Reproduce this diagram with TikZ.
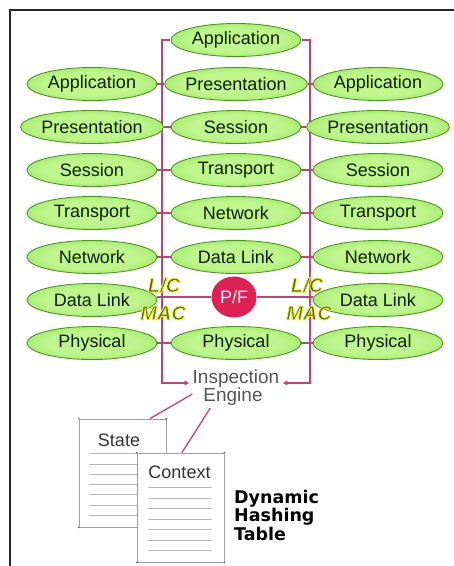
\documentclass[tikz,border=0pt]{standalone}
\usepackage{fontspec}
\setmainfont{Liberation Sans}
\newfontfamily\dvbold{DejaVu Sans Bold}
\newfontfamily\lcfont{Liberation Sans Bold Italic}
\usetikzlibrary{shapes.geometric,arrows.meta,calc}

\definecolor{gLight}{RGB}{190,245,140}
\definecolor{gMid}{RGB}{155,228,95}
\definecolor{gSat}{RGB}{125,210,60}
\definecolor{gDark}{RGB}{95,185,40}
\definecolor{gBorder}{RGB}{75,150,35}
\definecolor{gText}{RGB}{15,30,0}
\definecolor{lineC}{RGB}{185,70,115}
\definecolor{pfC}{RGB}{222,32,85}
\definecolor{lcC}{RGB}{85,120,0}
\definecolor{ieC}{RGB}{85,85,85}
\definecolor{docC}{RGB}{160,160,160}
\definecolor{docLine}{RGB}{185,185,185}

\pgfdeclareradialshading{greenell}{\pgfpoint{0bp}{0bp}}{color(0bp)=(gLight); color(18bp)=(gLight); color(32bp)=(gMid); color(44bp)=(gSat); color(50bp)=(gDark)}

\newcommand\glowtxt[1]{\textcolor{lcC}{\special{pdf:code q 2 Tr 0.9 w 1 j 0.97 0.93 0.35 RG}\lcfont #1\special{pdf:code Q}}}

\tikzset{
  layer/.style={ellipse, shading=greenell, draw=gBorder, line width=0.9pt,
    minimum width=130, minimum height=33, inner sep=0pt,
    font=\fontsize{18}{20}\selectfont, text=gText},
  conn/.style={draw=lineC, line width=1.3pt},
  tip/.style={-{Stealth[length=5pt,width=5pt]}},
  lcmac/.style={inner sep=0pt, font=\fontsize{20}{20}\selectfont},
  ietxt/.style={inner sep=0pt, anchor=base, font=\fontsize{19}{20}\selectfont, text=ieC},
  docbox/.style={draw=docC, fill=white, line width=0.8pt, inner sep=0pt},
  doctxt/.style={inner sep=0pt, font=\fontsize{18}{20}\selectfont, text=black!80},
  docrule/.style={draw=docLine, line width=0.8pt},
  corner/.style={fill=black!60},
  dhtxt/.style={inner sep=0pt, anchor=base west, font=\fontsize{17.5}{18}\dvbold, text=black},
  frame/.style={draw=black!85, line width=1.3pt}
}

\begin{document}
\begin{tikzpicture}[x=1pt,y=-1pt]
\useasboundingbox (0,0) rectangle (454,566);
\fill[white] (0,0) rectangle (454,566);
\draw[frame] (10,566) -- (10,10) -- (454,10);

% coordinates for the bus
\coordinate (bl) at (162,383);
\coordinate (br) at (310,383);
\coordinate (aL) at (189,383);
\coordinate (aR) at (283,383);

% bus lines (drawn first, under nodes)
\path[conn,tip] (236,40) ++(-66,0) -| (bl) -- (aL);
\path[conn,tip] (236,40) ++(66,0) -| (br) -- (aR);

% centre column
\node[layer] (c0) at (236,40) {Application};
\node[layer] (c1) at (236,84) {Presentation};
\node[layer] (c2) at (236,127) {Session};
\node[layer] (c3) at (236,170) {Transport};
\node[layer] (c4) at (236,213) {Network};
\node[layer] (c5) at (236,257) {Data Link};
\node[layer] (c7) at (236,343) {Physical};

% left column
\node[layer] (l1) at (92,84) {Application};
\node[layer] (l2) at (92,127) {Presentation};
\node[layer] (l3) at (92,170) {Session};
\node[layer] (l4) at (92,213) {Transport};
\node[layer] (l5) at (92,257) {Network};
\node[layer] (l6) at (92,300) {Data Link};
\node[layer] (l7) at (92,343) {Physical};

% right column
\node[layer] (r1) at (378,84) {Application};
\node[layer] (r2) at (378,127) {Presentation};
\node[layer] (r3) at (378,170) {Session};
\node[layer] (r4) at (378,213) {Transport};
\node[layer] (r5) at (378,257) {Network};
\node[layer] (r6) at (378,300) {Data Link};
\node[layer] (r7) at (378,343) {Physical};

% P/F
\node[ellipse, fill=pfC, minimum width=45, minimum height=41, inner sep=0pt,
      text=white, font=\fontsize{18}{20}\selectfont] (pf) at (234,297) {P/F};

% row connectors
\foreach \i in {1,2,3,4,5,7}{
  \draw[conn] (l\i.east) -- (c\i.west);
  \draw[conn] (c\i.east) -- (r\i.west);
}
\draw[conn] (pf.west) -- (pf.west -| l6.east);
\draw[conn] (pf.east) -- (pf.east -| r6.west);

% L/C MAC labels
\node[lcmac] (lcL) at (164,285) {\glowtxt{L/C}};
\node[lcmac] (macL) at (163,313) {\glowtxt{MAC}};
\node[lcmac] (lcR) at (307,285) {\glowtxt{L/C}};
\node[lcmac] (macR) at (309,313) {\glowtxt{MAC}};

% Inspection engine
\node[ietxt] (ie1) at (236,383) {Inspection};
\node[ietxt] (ie2) at (233,401) {Engine};

% documents
\node[docbox, minimum width=87, minimum height=108] (st) at (122.5,473) {};
\node[doctxt] (stl) at (119,440) {State};
\foreach \k in {0,...,6}{
  \draw[docrule] ($(st.north west)+(10,35+10.3*\k)$) -- ++(62,0);
}
\foreach \a in {north west,north east,south west,south east}{
  \fill[corner] (st.\a) circle (0.9);
}
\node[docbox, minimum width=87, minimum height=109] (cx) at (180.5,507.5) {};
\node[doctxt] (cxl) at (179.5,472) {Context};
\foreach \k in {0,...,6}{
  \draw[docrule] ($(cx.north west)+(11,35+10.5*\k)$) -- ++(64,0);
}
\foreach \a in {north west,north east,south west,south east}{
  \fill[corner] (cx.\a) circle (0.9);
}

% links from engine to tables
\draw[conn] ($(ie2.west)+(-11,-2)$) -- ($(st.north)+(27.5,0)$);
\draw[conn] ($(ie2.south west)+(7,3)$) -- ($(cx.north)+(1.5,0)$);

% label
\node[dhtxt] (d1) at (234,503) {Dynamic};
\node[dhtxt] (d2) at (234,521.5) {Hashing};
\node[dhtxt] (d3) at (234,540) {Table};
\end{tikzpicture}
\end{document}
